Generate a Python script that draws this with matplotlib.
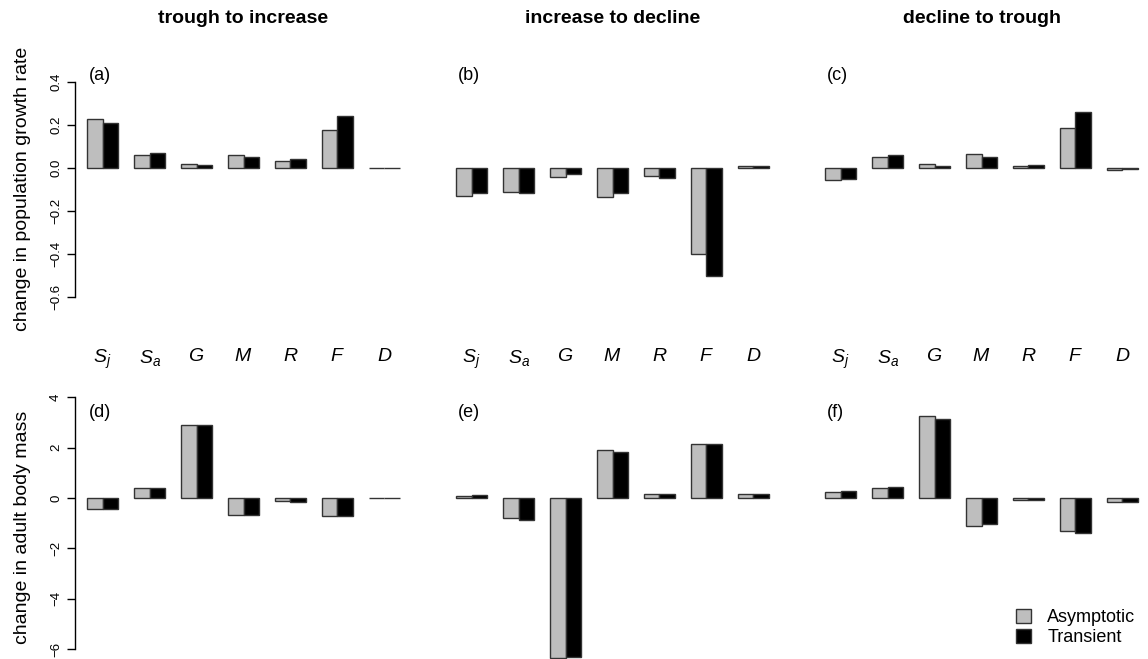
import matplotlib
matplotlib.use("Agg")
import matplotlib.pyplot as plt
from matplotlib.patches import Patch
import numpy as np

plt.rcParams['font.family'] = ['Liberation Sans', 'DejaVu Sans']
plt.rcParams['mathtext.fontset'] = 'custom'
plt.rcParams['mathtext.rm'] = 'Liberation Sans'
plt.rcParams['mathtext.it'] = 'Liberation Sans:italic'

params = [r'$S_j$', r'$S_a$', r'$G$', r'$M$', r'$R$', r'$F$', r'$D$']
col_titles = ['trough to increase', 'increase to decline', 'decline to trough']
panel_tags = ['(a)', '(b)', '(c)', '(d)', '(e)', '(f)']

# change in population growth rate
growth_asym = [
    [0.226, 0.062, 0.019, 0.059, 0.031, 0.175, -0.002],
    [-0.130, -0.113, -0.042, -0.136, -0.037, -0.400, 0.011],
    [-0.056, 0.051, 0.020, 0.065, 0.009, 0.186, -0.008],
]
growth_trans = [
    [0.208, 0.067, 0.012, 0.050, 0.043, 0.239, -0.002],
    [-0.115, -0.115, -0.028, -0.115, -0.048, -0.499, 0.008],
    [-0.051, 0.059, 0.011, 0.051, 0.012, 0.260, -0.006],
]
# change in adult body mass
mass_asym = [
    [-0.44, 0.41, 2.91, -0.66, -0.12, -0.70, -0.02],
    [0.07, -0.79, -6.36, 1.92, 0.17, 2.13, 0.16],
    [0.25, 0.38, 3.26, -1.11, -0.07, -1.32, -0.16],
]
mass_trans = [
    [-0.44, 0.41, 2.91, -0.66, -0.15, -0.73, -0.02],
    [0.12, -0.87, -6.30, 1.83, 0.17, 2.13, 0.16],
    [0.26, 0.45, 3.14, -1.03, -0.07, -1.39, -0.16],
]

W, H = 1148, 659
fig = plt.figure(figsize=(W / 100, H / 100), dpi=100)

lefts = [74.5, 443.5, 812.5]
aw = 338
rows = [(73, 306), (387, 659.3)]
label_mid = [189, 527]   # pixel y of the y-label centres
GRAY = '#bebebe'
EDGE = '#333333'

grp = np.arange(7)
for r in range(2):
    top, bot = rows[r]
    for c in range(3):
        ax = fig.add_axes([lefts[c] / W, (H - bot) / H, aw / W, (bot - top) / H])
        if r == 0:
            a, t = growth_asym[c], growth_trans[c]
            ax.set_ylim(-0.64, 0.44)
        else:
            a, t = mass_asym[c], mass_trans[c]
            ax.set_ylim(-6.4, 4.4)
        ax.set_xlim(0.2, 21.8)
        ax.bar(1.5 + 3 * grp, a, width=1, color=GRAY, edgecolor=EDGE, linewidth=1)
        ax.bar(2.5 + 3 * grp, t, width=1, color='black', edgecolor=EDGE, linewidth=1)

        for s in ['top', 'right', 'bottom']:
            ax.spines[s].set_visible(False)
        if c == 0:
            ax.spines['left'].set_linewidth(1)
            if r == 0:
                ax.spines['left'].set_bounds(-0.6, 0.4)
                ax.set_yticks([-0.6, -0.4, -0.2, 0.0, 0.2, 0.4])
                ax.set_yticklabels(['\u22120.6', '\u22120.4', '\u22120.2', '0.0', '0.2', '0.4'])
                ax.set_ylabel('change in population growth rate', fontsize=14)
            else:
                ax.spines['left'].set_bounds(-6, 4)
                ax.set_yticks([-6, -4, -2, 0, 2, 4])
                ax.set_yticklabels(['\u22126', '\u22124', '\u22122', '0', '2', '4'])
                ax.set_ylabel('change in adult body mass', fontsize=14)
            ax.yaxis.set_label_coords((23 - lefts[0]) / aw, (bot - label_mid[r]) / (bot - top))
            ax.yaxis.label.set_va('center')
            ax.tick_params(axis='y', direction='out', length=6, width=1,
                           labelsize=9.5, pad=3)
            for lab in ax.get_yticklabels():
                lab.set_rotation(90)
                lab.set_va('center')
        else:
            ax.spines['left'].set_visible(False)
            ax.set_yticks([])

        if r == 0:
            ax.set_xticks(2 + 3 * grp)
            ax.set_xticklabels(params, fontsize=14)
            ax.tick_params(axis='x', length=0, pad=30)
            ax.set_title(col_titles[c], fontsize=14, fontweight='bold', pad=36)
        else:
            ax.set_xticks([])

        ytag = 0.43 if r == 0 else 3.37
        ax.text(1.15, ytag, panel_tags[r * 3 + c], fontsize=13, ha='left', va='center')

handles = [Patch(facecolor=GRAY, edgecolor=EDGE, linewidth=1, label='Asymptotic'),
           Patch(facecolor='black', edgecolor=EDGE, linewidth=1, label='Transient')]
fig.legend(handles=handles, loc='lower right', bbox_to_anchor=(1.0, 0.0),
           frameon=False, fontsize=13, handlelength=0.85, handleheight=0.85,
           handletextpad=0.9, labelspacing=0.15, borderaxespad=0.3)

fig.savefig('out.png', dpi=100)
